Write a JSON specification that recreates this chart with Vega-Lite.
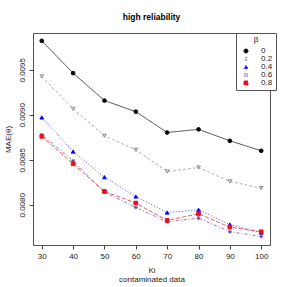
{
  "$schema": "https://vega.github.io/schema/vega-lite/v6.json",
  "width": 237,
  "height": 212,
  "autosize": "none",
  "padding": {"left": 33, "top": 33, "right": 17, "bottom": 42},
  "background": "white",
  "title": {"text": "high reliability", "fontSize": 8.5, "fontWeight": "bold", "font": "Liberation Sans", "anchor": "middle", "offset": 11, "color": "#000"},
  "config": {
    "font": "Liberation Sans",
    "view": {"stroke": "#555", "strokeWidth": 1},
    "axis": {"grid": false, "domain": false, "tickColor": "#444", "tickSize": 4, "labelFontSize": 8, "labelColor": "#222", "titleFontSize": 8, "titleFontWeight": "normal", "titleColor": "#222"},
    "legend": {"strokeColor": "#555", "padding": 3, "fillColor": "white", "titleFontSize": 8, "titleFontWeight": "normal", "titleColor": "#222", "titleAnchor": "middle", "titlePadding": 3, "labelFontSize": 8, "labelColor": "#222", "rowPadding": 0, "symbolSize": 16, "symbolStrokeWidth": 0.9, "labelOffset": 11, "symbolOffset": 3}
  },
  "data": {"values": [
    {"Ki": 30, "beta": "0", "mae": 0.009822}, {"Ki": 40, "beta": "0", "mae": 0.009463}, {"Ki": 50, "beta": "0", "mae": 0.009158}, {"Ki": 60, "beta": "0", "mae": 0.009035}, {"Ki": 70, "beta": "0", "mae": 0.008803}, {"Ki": 80, "beta": "0", "mae": 0.008838}, {"Ki": 90, "beta": "0", "mae": 0.008711}, {"Ki": 100, "beta": "0", "mae": 0.0086},
    {"Ki": 30, "beta": "0.2", "mae": 0.009426}, {"Ki": 40, "beta": "0.2", "mae": 0.009067}, {"Ki": 50, "beta": "0.2", "mae": 0.008767}, {"Ki": 60, "beta": "0.2", "mae": 0.00861}, {"Ki": 70, "beta": "0.2", "mae": 0.00837}, {"Ki": 80, "beta": "0.2", "mae": 0.008414}, {"Ki": 90, "beta": "0.2", "mae": 0.008259}, {"Ki": 100, "beta": "0.2", "mae": 0.008185},
    {"Ki": 30, "beta": "0.4", "mae": 0.00897}, {"Ki": 40, "beta": "0.4", "mae": 0.008592}, {"Ki": 50, "beta": "0.4", "mae": 0.008307}, {"Ki": 60, "beta": "0.4", "mae": 0.008092}, {"Ki": 70, "beta": "0.4", "mae": 0.007914}, {"Ki": 80, "beta": "0.4", "mae": 0.007944}, {"Ki": 90, "beta": "0.4", "mae": 0.00778}, {"Ki": 100, "beta": "0.4", "mae": 0.00769},
    {"Ki": 30, "beta": "0.6", "mae": 0.008778}, {"Ki": 40, "beta": "0.6", "mae": 0.008489}, {"Ki": 50, "beta": "0.6", "mae": 0.00814}, {"Ki": 60, "beta": "0.6", "mae": 0.00797}, {"Ki": 70, "beta": "0.6", "mae": 0.00781}, {"Ki": 80, "beta": "0.6", "mae": 0.007852}, {"Ki": 90, "beta": "0.6", "mae": 0.0077}, {"Ki": 100, "beta": "0.6", "mae": 0.007648},
    {"Ki": 30, "beta": "0.8", "mae": 0.00876}, {"Ki": 40, "beta": "0.8", "mae": 0.008456}, {"Ki": 50, "beta": "0.8", "mae": 0.008148}, {"Ki": 60, "beta": "0.8", "mae": 0.008019}, {"Ki": 70, "beta": "0.8", "mae": 0.007826}, {"Ki": 80, "beta": "0.8", "mae": 0.0079}, {"Ki": 90, "beta": "0.8", "mae": 0.007752}, {"Ki": 100, "beta": "0.8", "mae": 0.0077}
  ]},
  "encoding": {
    "x": {"field": "Ki", "type": "quantitative", "scale": {"domain": [27.2, 102.8], "nice": false, "zero": false},
          "axis": {"values": [30, 40, 50, 60, 70, 80, 90, 100], "title": ["Ki", "contaminated data"], "titlePadding": 6, "titleLineHeight": 9, "labelPadding": 3}},
    "y": {"field": "mae", "type": "quantitative", "scale": {"domain": [0.007553, 0.009909], "nice": false, "zero": false},
          "axis": {"values": [0.008, 0.0085, 0.009, 0.0095], "format": ".4f", "labelAngle": -90, "labelAlign": "center", "labelBaseline": "bottom", "labelPadding": 3, "title": "MAE(θ)", "titlePadding": 6}}
  },
  "layer": [
    {
      "mark": {"type": "line", "strokeWidth": 0.7},
      "encoding": {
        "stroke": {"field": "beta", "type": "nominal", "title": "β", "scale": {"domain": ["0", "0.2", "0.4", "0.6", "0.8"], "range": ["#000000", "#808080", "#0000ff", "#6a3d9a", "#e8101c"]}, "legend": {"orient": "none", "legendX": 203, "legendY": 0}},
        "strokeDash": {"field": "beta", "type": "nominal", "scale": {"domain": ["0", "0.2", "0.4", "0.6", "0.8"], "range": [[1, 0], [2.5, 2.5], [1, 2], [1, 2, 3, 2], [4, 2]]}, "legend": null}
      }
    },
    {
      "mark": {"type": "point", "filled": false, "strokeWidth": 0.9, "opacity": 1},
      "encoding": {
        "stroke": {"field": "beta", "type": "nominal", "title": "β", "legend": {"orient": "none", "legendX": 203, "legendY": 0}},
        "fill": {"field": "beta", "type": "nominal", "title": "β", "scale": {"domain": ["0", "0.2", "0.4", "0.6", "0.8"], "range": ["#000000", "transparent", "#0000ff", "transparent", "#e8101c"]}, "legend": {"orient": "none", "legendX": 203, "legendY": 0}},
        "shape": {"field": "beta", "type": "nominal", "title": "β", "scale": {"domain": ["0", "0.2", "0.4", "0.6", "0.8"], "range": ["circle", "triangle-down", "triangle-up", "M-1,0L1,0M0,-1L0,1M-0.7,-0.7L0.7,0.7M-0.7,0.7L0.7,-0.7", "square"]}, "legend": {"orient": "none", "legendX": 203, "legendY": 0}},
        "size": {"value": 14}
      }
    }
  ]
}
